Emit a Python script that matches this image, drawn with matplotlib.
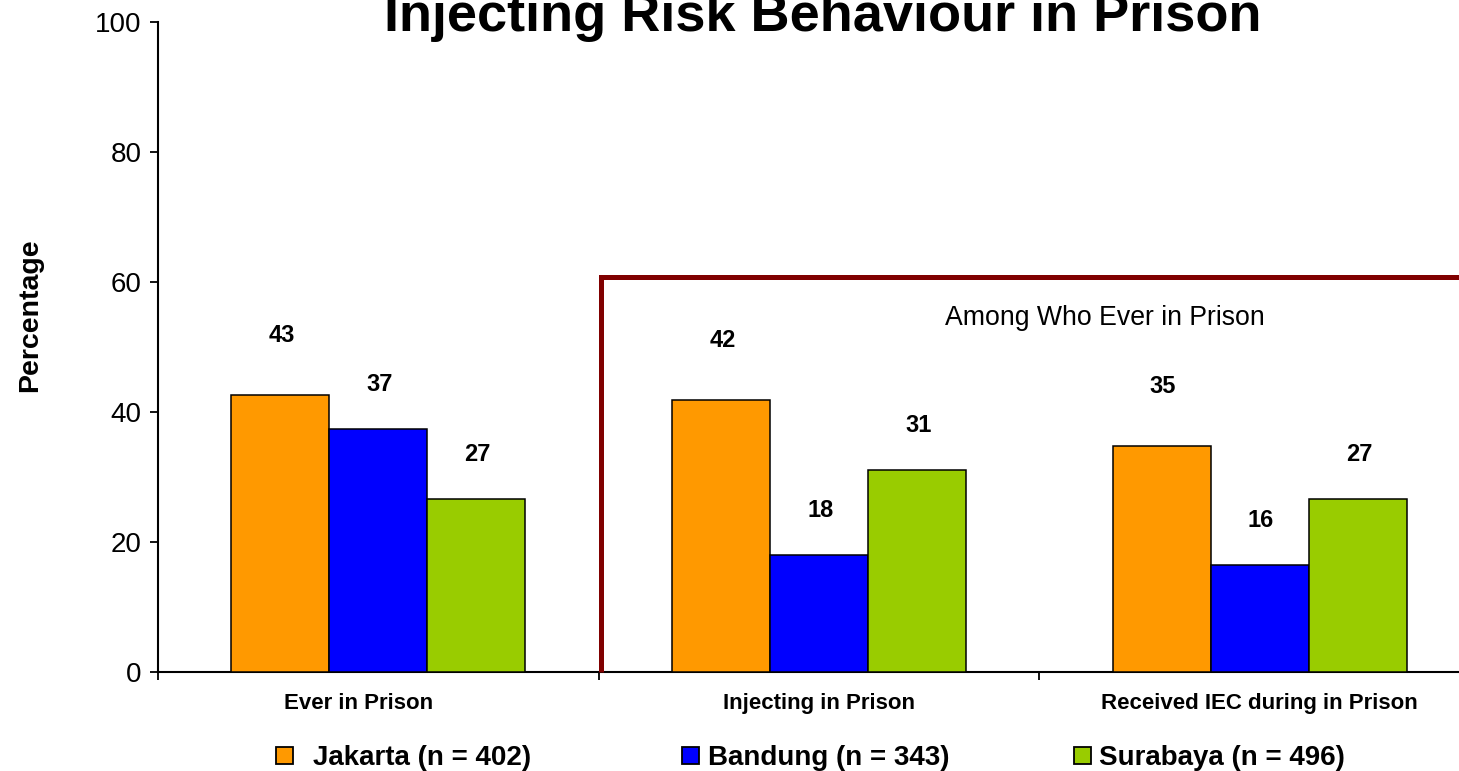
import matplotlib
matplotlib.use("Agg")
import matplotlib.pyplot as plt
import matplotlib.transforms as mtransforms
from matplotlib.patches import Rectangle
import numpy as np

plt.rcParams['font.family'] = ['Liberation Sans', 'DejaVu Sans']

# Data
categories = ["Ever in Prison", "Injecting in Prison", "Received IEC during in Prison"]
series_names = ["Jakarta (n = 402)", "Bandung (n = 343)", "Surabaya (n = 496)"]
jakarta = [42.6, 41.8, 34.7]
bandung = [37.4, 18.0, 16.4]
surabaya = [26.6, 31.1, 26.6]
y_ticks = [0, 20, 40, 60, 80, 100]
subgroup_note = "Among Who Ever in Prison"
subgroup_level = 60.8

colors = ["#FF9900", "#0000FF", "#99CC00"]
series = [jakarta, bandung, surabaya]

W, H = 1459, 771
fig = plt.figure(figsize=(W / 100, H / 100), dpi=100)
ax = fig.add_axes([158 / W, (H - 672) / H, (1480 - 158) / W, 650 / H])

x = np.arange(len(categories))
bw = 0.2224
offsets = [-bw, 0, bw]
label_offsets_pt = [43, 32, 32]

for vals, col, off, lo in zip(series, colors, offsets, label_offsets_pt):
    bars = ax.bar(x + off, vals, width=bw, color=col, edgecolor="black",
                  linewidth=1.1, zorder=3)
    for b, v in zip(bars, vals):
        ax.annotate(f"{v:.0f}", (b.get_x() + b.get_width() / 2, v),
                    xytext=(1, lo), textcoords="offset points",
                    ha="center", va="center", fontsize=17, fontweight="bold")

ax.set_xlim(-0.5, 2.5)
ax.set_ylim(0, 100)
ax.set_yticks(y_ticks)
ax.set_yticklabels([str(t) for t in y_ticks], fontsize=20)
ax.tick_params(axis="y", length=6, width=1.3, pad=6, direction="out")

ax.set_xticks(x)
ax.set_xticklabels(categories, fontsize=16, fontweight="bold")
ax.tick_params(axis="x", which="major", length=0, pad=15)
ax.set_xticks([-0.5, 0.5, 1.5, 2.5], minor=True)
ax.tick_params(axis="x", which="minor", length=6, width=1.3, direction="out")

# first category label sits a little left of its group centre
first = ax.get_xticklabels()[0]
first.set_transform(first.get_transform() +
                    mtransforms.ScaledTranslation(-20 / 100, 0, fig.dpi_scale_trans))

for s in ["top", "right"]:
    ax.spines[s].set_visible(False)
for s in ["left", "bottom"]:
    ax.spines[s].set_linewidth(1.5)

# bracket marking the subgroup categories
ax.plot([0.505, 0.505, 2.5], [0, subgroup_level, subgroup_level],
        color="#800000", linewidth=3.6, solid_capstyle="butt",
        solid_joinstyle="miter", clip_on=False, zorder=4)
ax.text((1105 - 158) / 440.7 - 0.5, 53.4, subgroup_note, fontsize=19.2,
        ha="center", va="baseline")

# title and axis label
fig.text(822.5 / W, 1 - 31 / H, "Injecting Risk Behaviour in Prison",
         fontsize=39, fontweight="bold", ha="center", va="baseline")
fig.text(30 / W, 1 - 315 / H, "Percentage", rotation=90, fontsize=20.5,
         fontweight="bold", ha="center", va="center")

# legend row
marker_x = [276, 682, 1074]
text_x = [313, 708, 1099]
for mx, tx, col, name in zip(marker_x, text_x, colors, series_names):
    fig.add_artist(Rectangle((mx / W, (H - 764) / H), 17 / W, 17 / H,
                             transform=fig.transFigure, facecolor=col,
                             edgecolor="black", linewidth=1.3))
    fig.text(tx / W, 6 / H, name, fontsize=20, fontweight="bold",
             ha="left", va="baseline")

fig.savefig("out.png", dpi=100)
